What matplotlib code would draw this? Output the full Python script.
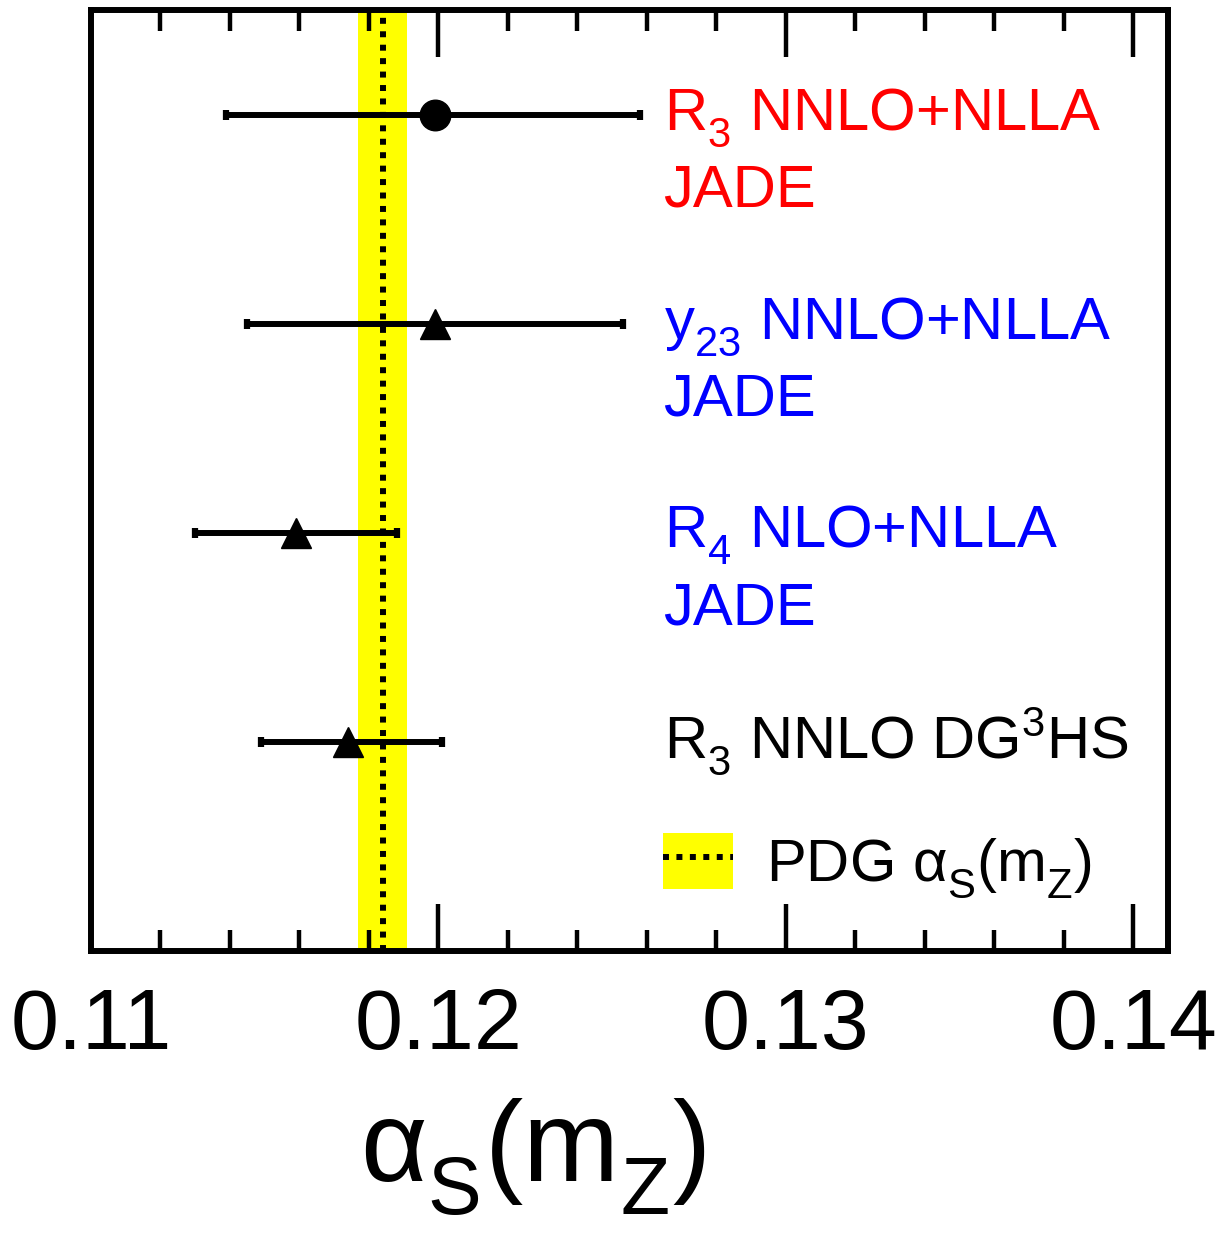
import matplotlib
matplotlib.use("Agg")
import matplotlib.pyplot as plt
import matplotlib._mathtext as mathtext_internal
from matplotlib.patches import Patch
from matplotlib.lines import Line2D
from matplotlib.legend_handler import HandlerTuple
from matplotlib.ticker import MultipleLocator

plt.rcParams['font.family'] = ['Liberation Sans', 'DejaVu Sans']
plt.rcParams['mathtext.default'] = 'regular'
# ROOT-style subscripts sit lower than matplotlib's default
mathtext_internal.FontConstantsBase.sub1 = 0.55

# alpha_s(m_Z) determinations, top to bottom
line1 = [r'R$_3$ NNLO+NLLA', r'y$_{23}$ NNLO+NLLA', r'R$_4$ NLO+NLLA', r'R$_3$ NNLO DG$^3$HS']
line2 = ['JADE', 'JADE', 'JADE', '']
label_colors = ['#ff0000', '#0000ff', '#0000ff', 'black']
markers = ['o', '^', '^', '^']
alphas = [0.1199, 0.1199, 0.1159, 0.1174]
err_lo = [0.0060, 0.0054, 0.0029, 0.0025]
err_hi = [0.0059, 0.0054, 0.0029, 0.0027]
ypos = [4, 3, 2, 1]

# PDG world average
pdg_value = 0.1184
pdg_err = 0.0007

fig = plt.figure(figsize=(12.29, 12.47), dpi=100)
ax = fig.add_axes([0.074, 0.2374, 0.8764, 0.7546])

ax.axvspan(pdg_value - pdg_err, pdg_value + pdg_err, color='#ffff00', lw=0, zorder=1)
ax.axvline(pdg_value, color='black', lw=4.3, ls=(0, (1, 1.25)), dash_capstyle='butt', zorder=2)

for i in range(len(alphas)):
    ms = 22 if markers[i] == 'o' else 21
    ax.errorbar(alphas[i], ypos[i], xerr=[[err_lo[i]], [err_hi[i]]], fmt=markers[i],
                color='black', ms=ms, lw=4.3, capsize=3.5, capthick=4.5, zorder=3)
    ax.text(0.12648, ypos[i] - 0.075, line1[i], color=label_colors[i], fontsize=43,
            ha='left', va='baseline')
    if line2[i]:
        ax.text(0.12648, ypos[i] - 0.44, line2[i], color=label_colors[i], fontsize=43,
                ha='left', va='baseline')

pdg_handle = (Patch(facecolor='#ffff00', edgecolor='none'),
              Line2D([], [], color='black', lw=4.3, ls=(0, (1, 1.25)), dash_capstyle='butt'))
ax.legend([pdg_handle], [r'PDG $\alpha_S(m_Z)$'], handler_map={tuple: HandlerTuple(ndivide=1, pad=0)},
          loc='upper left', bbox_to_anchor=(0.531, 0.1254), frameon=False, fontsize=43,
          borderpad=0, borderaxespad=0, handlelength=1.18, handleheight=1.06, handletextpad=0.55)

ax.set_xlim(0.11, 0.141)
ax.set_ylim(0, 4.5)
ax.set_yticks([])
ax.xaxis.set_minor_locator(MultipleLocator(0.002))
ax.set_xticks([0.11, 0.12, 0.13, 0.14])
ax.set_xticklabels(['0.11', '0.12', '0.13', '0.14'])
ax.tick_params(axis='x', which='both', direction='in', top=True, width=3.2, labelsize=62, pad=26)
ax.tick_params(axis='x', which='major', length=34)
ax.tick_params(axis='x', which='minor', length=15)
for s in ax.spines.values():
    s.set_linewidth(4.3)

ax.set_xlabel(r'$\alpha_S(m_Z)$', fontsize=83)
ax.xaxis.set_label_coords(0.41, -0.245)
ax.xaxis.label.set_verticalalignment('baseline')

fig.savefig('out.png', dpi=100)
